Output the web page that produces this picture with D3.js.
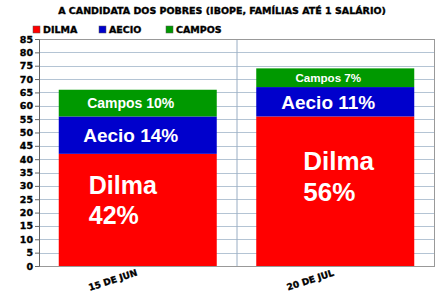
<!DOCTYPE html>
<html>
<head>
<meta charset="utf-8">
<script src="https://cdn.jsdelivr.net/npm/d3@7"></script>
<style>
  body { margin: 0; background: #fff; }
  svg text { font-family: "Liberation Sans", Arial, sans-serif; }
  .heavy { font-family: "DejaVu Sans", sans-serif !important; font-weight: bold; stroke: #000; stroke-width: 0.35px; }
</style>
</head>
<body>
<div id="chart"></div>
<script>
// data
const dates = ["15 DE JUN", "20 DE JUL"];
const dilma = [42, 56];
const aecio = [14, 11];
const campos = [10, 7];
const seriesNames = ["DILMA", "AECIO", "CAMPOS"];
const labelNames = ["Dilma", "Aecio", "Campos"];
const colors = ["#ff0000", "#0000cc", "#009900"];
const yTicks = d3.range(0, 90, 5);

const width = 441, height = 298;
const margin = { top: 39, right: 7, bottom: 32, left: 39 };
const plotW = width - margin.left - margin.right;
const plotH = height - margin.top - margin.bottom;

const svg = d3.select("#chart").append("svg")
  .attr("width", width)
  .attr("height", height);

// title
svg.append("text")
  .attr("class", "heavy")
  .attr("x", 222).attr("y", 14)
  .attr("text-anchor", "middle")
  .style("font-size", "9.5px")
  .text("A CANDIDATA DOS POBRES (IBOPE, FAMÍLIAS ATÉ 1 SALÁRIO)");

// legend
const legendX = [33, 99, 166];
seriesNames.forEach((name, i) => {
  svg.append("rect")
    .attr("x", legendX[i]).attr("y", 26)
    .attr("width", 7).attr("height", 7)
    .attr("fill", colors[i])
    .attr("stroke", "#555").attr("stroke-width", 0.5);
  svg.append("text")
    .attr("class", "heavy")
    .attr("x", legendX[i] + 10).attr("y", 33)
    .style("font-size", "9.5px")
    .text(name);
});

const g = svg.append("g")
  .attr("transform", `translate(${margin.left},${margin.top})`);

const x = d3.scaleBand().domain(dates).range([0, plotW]);
const y = d3.scaleLinear().domain([0, 85]).range([plotH, 0]);

// grid
g.selectAll(".hgrid")
  .data(yTicks.filter(d => d > 0 && d < 85))
  .enter().append("line")
  .attr("x1", 0).attr("x2", plotW)
  .attr("y1", d => Math.round(y(d)) + 0.5).attr("y2", d => Math.round(y(d)) + 0.5)
  .attr("stroke", "#b4c4d4").attr("stroke-width", 1);

g.append("line")
  .attr("x1", x(dates[1]) + 0.5).attr("x2", x(dates[1]) + 0.5)
  .attr("y1", 0).attr("y2", plotH)
  .attr("stroke", "#9aaec4");

g.append("rect")
  .attr("x", 0.5).attr("y", 0.5)
  .attr("width", plotW).attr("height", plotH)
  .attr("fill", "none").attr("stroke", "#999");

// stacked bars
const stackData = dates.map((d, i) => ({ date: d, Dilma: dilma[i], Aecio: aecio[i], Campos: campos[i] }));
const stack = d3.stack().keys(labelNames)(stackData);

const barW = x.bandwidth() * 0.8;
const barOff = (x.bandwidth() - barW) / 2;

stack.forEach((layer, li) => {
  g.selectAll(".bar-" + li)
    .data(layer)
    .enter().append("rect")
    .attr("x", d => x(d.data.date) + barOff)
    .attr("y", d => y(d[1]))
    .attr("width", barW)
    .attr("height", d => y(d[0]) - y(d[1]))
    .attr("fill", colors[li]);
});

// bar labels
const campoSize = [14, 11.6];
const aecioSize = [19, 19];
const dilmaSize = [25, 26];
const dilmaIndent = [30, 47];   // left-aligned text, offset from bar's left edge
const dilmaTop = [-16, -21];    // first baseline offset from segment middle
const dilmaLead = [30, 31];

stack.forEach((layer, li) => {
  layer.forEach((d, i) => {
    const cx = x(d.data.date) + x.bandwidth() / 2;
    const mid = (y(d[0]) + y(d[1])) / 2;
    const val = d[1] - d[0];
    const name = labelNames[li];
    if (li === 0) {
      const lx = x(d.data.date) + barOff + dilmaIndent[i];
      const t = g.append("text")
        .attr("fill", "#fff")
        .style("font-size", dilmaSize[i] + "px")
        .style("font-weight", "bold");
      t.append("tspan").attr("x", lx).attr("y", mid + dilmaTop[i]).text(name);
      t.append("tspan").attr("x", lx).attr("y", mid + dilmaTop[i] + dilmaLead[i]).text(val + "%");
    } else {
      const fs = li === 1 ? aecioSize[i] : campoSize[i];
      g.append("text")
        .attr("x", cx - 7)
        .attr("y", mid + fs * 0.36)
        .attr("text-anchor", "middle")
        .attr("fill", "#fff")
        .style("font-size", fs + "px")
        .style("font-weight", "bold")
        .text(name + " " + val + "%");
    }
  });
});

// y axis
const yAxis = g.append("g")
  .call(d3.axisLeft(y).tickValues(yTicks).tickSize(4).tickPadding(2));
yAxis.select(".domain").attr("stroke", "#666");
yAxis.selectAll(".tick line").attr("stroke", "#666");
yAxis.selectAll("text")
  .attr("class", "heavy")
  .style("font-size", "9.5px")
  .attr("fill", "#000");

// x labels
g.selectAll(".xlab")
  .data(dates)
  .enter().append("text")
  .attr("class", "heavy")
  .attr("transform", d => `translate(${x(d) + x.bandwidth() / 2 - 24},${plotH + 17}) rotate(-18)`)
  .attr("text-anchor", "middle")
  .style("font-size", "9px")
  .text(d => d);
</script>
</body>
</html>
